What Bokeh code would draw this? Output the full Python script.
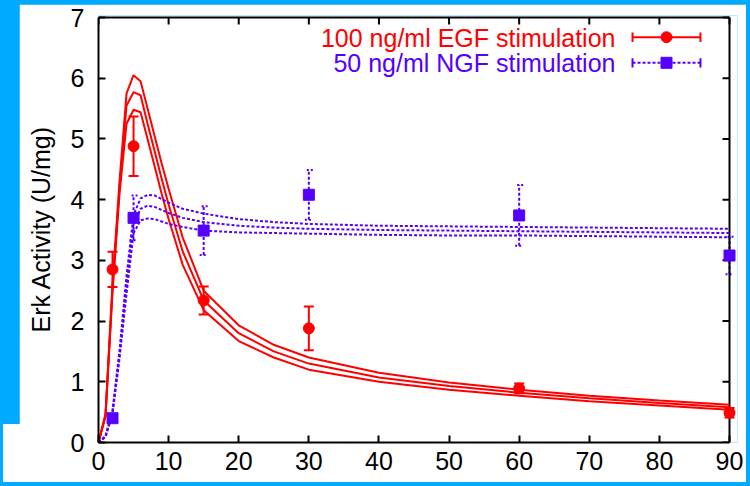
from bokeh.plotting import figure
from bokeh.models import ColumnDataSource, Whisker, TeeHead, Label, Range1d, FixedTicker
from bokeh.layouts import column
from bokeh.embed import file_html
from bokeh.resources import INLINE

# ---- data ----
t_data = [2, 5, 15, 30, 60, 90]
egf_mean = [2.85, 4.88, 2.34, 1.88, 0.89, 0.49]
egf_err = [0.29, 0.49, 0.23, 0.36, 0.08, 0.08]
ngf_mean = [0.40, 3.70, 3.49, 4.08, 3.74, 3.08]
ngf_err = [0.06, 0.37, 0.40, 0.41, 0.50, 0.31]

t_model = [0, 1, 2, 3, 4, 5, 6, 7, 8, 9, 10, 12, 15, 20, 25, 30, 40, 50, 60, 70, 80, 90]
egf_mid = [0, 0.45, 2.55, 4.20, 5.55, 5.77, 5.72, 5.25, 4.80, 4.35, 3.92, 3.15, 2.34, 1.80, 1.50, 1.30, 1.07, 0.93, 0.82, 0.73, 0.65, 0.58]
egf_hi = [0, 0.47, 2.62, 4.30, 5.75, 6.05, 5.95, 5.50, 5.05, 4.60, 4.18, 3.38, 2.50, 1.93, 1.61, 1.40, 1.15, 0.99, 0.87, 0.77, 0.69, 0.62]
egf_lo = [0, 0.43, 2.48, 4.10, 5.25, 5.48, 5.44, 5.00, 4.55, 4.10, 3.68, 2.93, 2.18, 1.67, 1.40, 1.20, 1.00, 0.87, 0.77, 0.68, 0.61, 0.54]

ngf_mid = [0, 0.10, 0.50, 1.45, 2.60, 3.60, 3.85, 3.90, 3.88, 3.83, 3.78, 3.70, 3.63, 3.57, 3.54, 3.52, 3.50, 3.49, 3.48, 3.47, 3.46, 3.45]
ngf_hi = [0, 0.11, 0.53, 1.52, 2.75, 3.75, 4.02, 4.08, 4.07, 4.01, 3.95, 3.85, 3.77, 3.68, 3.63, 3.60, 3.57, 3.56, 3.55, 3.54, 3.53, 3.52]
ngf_lo = [0, 0.09, 0.47, 1.38, 2.45, 3.45, 3.66, 3.69, 3.68, 3.64, 3.60, 3.55, 3.49, 3.46, 3.45, 3.44, 3.42, 3.41, 3.41, 3.40, 3.39, 3.38]

x_ticks = [0, 10, 20, 30, 40, 50, 60, 70, 80, 90]
y_ticks = [0, 1, 2, 3, 4, 5, 6, 7]
y_label = "Erk Activity (U/mg)"
egf_name = "100 ng/ml EGF stimulation"
ngf_name = "50 ng/ml NGF stimulation"

RED = "#FF0000"
BLUE = "#5500FF"
FONT = "Liberation Sans"
FS = "25px"

X0, X1, Y0, Y1 = 0, 90, 0, 7
# view extends a little beyond the axis box so markers on the edge are not cut
XV1 = X1 + 1.14
YV1 = Y1 + 0.033

p = figure(width=727, height=478, x_range=Range1d(X0, XV1), y_range=Range1d(Y0, YV1),
           output_backend="svg", toolbar_location=None,
           min_border_left=79, min_border_right=9, min_border_top=11, min_border_bottom=40)
p.border_fill_color = "white"
p.background_fill_color = "white"
p.grid.visible = False
p.outline_line_color = None
p.margin = (4, 4, 4, 19)

for ax in (p.xaxis[0], p.yaxis[0]):
    ax.axis_line_width = 2
    ax.axis_line_color = "black"
    ax.major_tick_line_width = 2
    ax.major_tick_line_color = "black"
    ax.major_tick_in = 7
    ax.major_tick_out = 0
    ax.minor_tick_line_color = None
    ax.major_label_text_font = FONT
    ax.major_label_text_font_size = FS
    ax.major_label_text_color = "black"
p.xaxis[0].ticker = FixedTicker(ticks=x_ticks)
p.yaxis[0].ticker = FixedTicker(ticks=y_ticks)
p.xaxis[0].bounds = (X0, X1)
p.yaxis[0].bounds = (Y0, Y1)
p.xaxis[0].major_label_standoff = 9
p.yaxis[0].major_label_standoff = 14
p.yaxis[0].axis_label = y_label
p.yaxis[0].axis_label_text_font = FONT
p.yaxis[0].axis_label_text_font_size = FS
p.yaxis[0].axis_label_text_font_style = "normal"
p.yaxis[0].axis_label_text_color = "black"
p.yaxis[0].axis_label_standoff = 13

# top and right border with inward ticks
p.segment([X0, X1], [Y1, Y0], [X1, X1], [Y1, Y1], line_color="black", line_width=2)
tick_dy = (Y1 - Y0) * 7 / 425.0
tick_dx = (X1 - X0) * 7 / 631.0
p.segment(x_ticks, [Y1] * len(x_ticks), x_ticks, [Y1 - tick_dy] * len(x_ticks),
          line_color="black", line_width=2)
p.segment([X1] * len(y_ticks), y_ticks, [X1 - tick_dx] * len(y_ticks), y_ticks,
          line_color="black", line_width=2)

# model curves
for ys in (egf_hi, egf_mid, egf_lo):
    p.line(t_model, ys, line_color=RED, line_width=2)
for ys in (ngf_hi, ngf_mid, ngf_lo):
    p.line(t_model, ys, line_color=BLUE, line_width=2, line_dash="3 2")

# data with error bars
egf_src = ColumnDataSource(dict(t=t_data, y=egf_mean,
                                lo=[m - e for m, e in zip(egf_mean, egf_err)],
                                hi=[m + e for m, e in zip(egf_mean, egf_err)]))
ngf_src = ColumnDataSource(dict(t=t_data, y=ngf_mean,
                                lo=[m - e for m, e in zip(ngf_mean, ngf_err)],
                                hi=[m + e for m, e in zip(ngf_mean, ngf_err)]))
p.add_layout(Whisker(base="t", upper="hi", lower="lo", source=egf_src, line_color=RED, line_width=2,
                     upper_head=TeeHead(size=10, line_color=RED, line_width=2),
                     lower_head=TeeHead(size=10, line_color=RED, line_width=2)))
p.add_layout(Whisker(base="t", upper="hi", lower="lo", source=ngf_src, line_color=BLUE, line_width=2,
                     line_dash="3 2",
                     upper_head=TeeHead(size=8, line_color=BLUE, line_width=2, line_dash="2 2"),
                     lower_head=TeeHead(size=8, line_color=BLUE, line_width=2, line_dash="2 2")))
p.scatter("t", "y", source=egf_src, marker="circle", size=11, color=RED)
p.scatter("t", "y", source=ngf_src, marker="square", size=11, color=BLUE)

# legend (manual, text on the left of the sample)
def fx(f):
    return X0 + f * (X1 - X0)

def fy(f):
    return Y0 + f * (Y1 - Y0)

lx_text, lx0, lx1 = fx(0.8193), fx(0.8463), fx(0.9540)
lxc = (lx0 + lx1) / 2
rows = [(egf_name, RED, fy(0.9536), fy(0.9507), "circle", None),
        (ngf_name, BLUE, fy(0.8934), fy(0.8941), "square", "3 2")]
for name, col, ysamp, ytxt, mk, dash in rows:
    p.add_layout(Label(x=lx_text, y=ytxt, text=name, text_align="right", text_baseline="middle",
                       text_font=FONT, text_font_size=FS, text_color=col))
    kw = dict(line_color=col, line_width=2)
    if dash:
        kw["line_dash"] = dash
    p.line([lx0, lx1], [ysamp, ysamp], **kw)
    dy = (Y1 - Y0) * 0.011
    p.segment([lx0, lx1], [ysamp - dy, ysamp - dy], [lx0, lx1], [ysamp + dy, ysamp + dy],
              line_color=col, line_width=2)
    p.scatter([lxc], [ysamp], marker=mk, size=11, color=col)

layout = column(p, styles={
    "background": "linear-gradient(#ffffff, #ffffff) 3px 424px / 20px 58px no-repeat, #00AAFF"})
open("out.html", "w").write(file_html(layout, INLINE))
